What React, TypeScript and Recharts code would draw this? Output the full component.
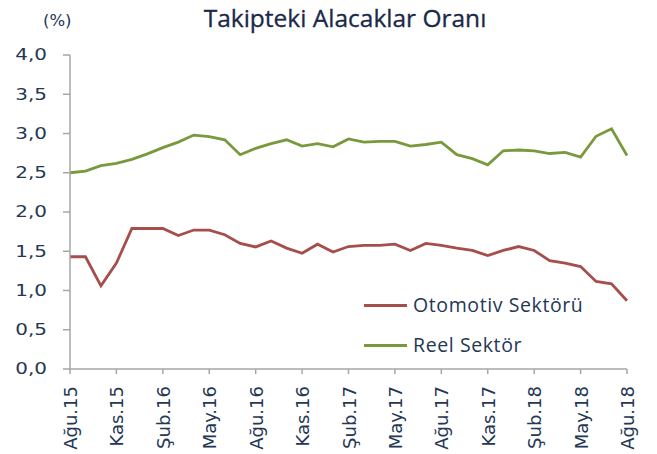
import React from 'react';
import { LineChart, Line, XAxis, YAxis, Legend } from 'recharts';

const months: string[] = [
  'Ağu.15', 'Eyl.15', 'Eki.15', 'Kas.15', 'Ara.15',
  'Oca.16', 'Şub.16', 'Mar.16', 'Nis.16', 'May.16', 'Haz.16', 'Tem.16', 'Ağu.16', 'Eyl.16', 'Eki.16', 'Kas.16', 'Ara.16',
  'Oca.17', 'Şub.17', 'Mar.17', 'Nis.17', 'May.17', 'Haz.17', 'Tem.17', 'Ağu.17', 'Eyl.17', 'Eki.17', 'Kas.17', 'Ara.17',
  'Oca.18', 'Şub.18', 'Mar.18', 'Nis.18', 'May.18', 'Haz.18', 'Tem.18', 'Ağu.18',
];

const otomotiv: number[] = [
  1.43, 1.43, 1.06, 1.35, 1.79,
  1.79, 1.79, 1.70, 1.77, 1.77, 1.71, 1.60, 1.555, 1.63, 1.54, 1.475, 1.59,
  1.49, 1.56, 1.575, 1.575, 1.59, 1.51, 1.60, 1.575, 1.54, 1.51, 1.445, 1.51,
  1.56, 1.51, 1.38, 1.35, 1.305, 1.115, 1.085, 0.87,
];

const reel: number[] = [
  2.50, 2.52, 2.59, 2.62, 2.67,
  2.74, 2.82, 2.89, 2.98, 2.96, 2.92, 2.73, 2.81, 2.87, 2.92, 2.84, 2.87,
  2.83, 2.93, 2.89, 2.90, 2.90, 2.84, 2.86, 2.89, 2.73, 2.68, 2.60, 2.78,
  2.79, 2.78, 2.745, 2.76, 2.70, 2.965, 3.06, 2.72,
];

const yTicks: number[] = [0, 0.5, 1, 1.5, 2, 2.5, 3, 3.5, 4];

const title = 'Takipteki Alacaklar Oranı';
const unitLabel = '(%)';
const seriesNames = { otomotiv: 'Otomotiv Sektörü', reel: 'Reel Sektör' };

const data = months.map((m, i) => ({ month: m, otomotiv: otomotiv[i], reel: reel[i] }));

const TEXT = '#243754';
const AXIS = '#a6a6a6';
const RED = '#a64e4c';
const GREEN = '#789a3c';

const XTick = (props: any) => {
  const { x, y, payload } = props;
  return (
    <g transform={`translate(${x},${y})`}>
      <text
        transform="rotate(-90)"
        x={-12}
        y={7}
        textAnchor="end"
        fill={TEXT}
        fontFamily="DejaVu Sans"
        fontSize={18}
      >
        {payload.value}
      </text>
    </g>
  );
};

const YTick = (props: any) => {
  const { x, y, payload } = props;
  const label = Number(payload.value).toFixed(1).replace('.', ',');
  return (
    <g transform={`translate(${x},${y}) scale(1.33,1)`}>
      <text x={0} y={0} dy="0.36em" textAnchor="end" fill={TEXT} fontFamily="DejaVu Sans" fontSize={15}>
        {label}
      </text>
    </g>
  );
};

const LegendContent = (props: any) => {
  const { payload } = props;
  return (
    <div style={{ position: 'relative', width: 260, height: 70 }}>
      {(payload || []).map((item: any, i: number) => (
        <div
          key={item.value}
          style={{ position: 'absolute', left: 0, top: i * 40, height: 30, display: 'flex', alignItems: 'center' }}
        >
          <div style={{ width: 43, height: 3, background: item.color, marginRight: 6 }} />
          <span style={{ fontFamily: 'Open Sans', fontSize: 19.5, color: TEXT, letterSpacing: 0.6, lineHeight: '30px' }}>
            {item.value}
          </span>
        </div>
      ))}
    </div>
  );
};

export default function App() {
  return (
    <div style={{ position: 'absolute', left: 0, top: 0, width: 657, height: 454, background: '#fff' }}>
      <svg width={657} height={40} style={{ position: 'absolute', left: 0, top: 0 }}>
        <text x={345} y={27} textAnchor="middle" fill="#1a2948" stroke="#1a2948" strokeWidth={0.3} fontFamily="Open Sans" fontSize={24.5}>
          {title}
        </text>
        <text x={43} y={26} textAnchor="start" fill={TEXT} fontFamily="DejaVu Sans" fontSize={16.5}>
          {unitLabel}
        </text>
      </svg>
      <LineChart
        width={657}
        height={454}
        data={data}
        margin={{ top: 55, right: 30, bottom: 5, left: 8 }}
        style={{ position: 'absolute', left: 0, top: 0 }}
      >
        <XAxis
          dataKey="month"
          scale="point"
          padding={{ left: 0, right: 0 }}
          interval={2}
          height={80}
          tickSize={5}
          tickMargin={0}
          axisLine={{ stroke: AXIS, strokeWidth: 1.5 }}
          tickLine={{ stroke: AXIS, strokeWidth: 1.5 }}
          tick={<XTick />}
        />
        <YAxis
          domain={[0, 4]}
          ticks={yTicks}
          width={62}
          tickSize={7}
          tickMargin={16}
          axisLine={{ stroke: AXIS, strokeWidth: 1.5 }}
          tickLine={{ stroke: AXIS, strokeWidth: 1.5 }}
          tick={<YTick />}
          interval={0}
        />
        <Legend
          layout="vertical"
          verticalAlign="middle"
          align="center"
          wrapperStyle={{ position: 'absolute', left: 364, top: 290, width: 260 }}
          content={<LegendContent />}
        />
        <Line
          type="linear"
          dataKey="otomotiv"
          name={seriesNames.otomotiv}
          stroke={RED}
          strokeWidth={2.8}
          dot={false}
          isAnimationActive={false}
        />
        <Line
          type="linear"
          dataKey="reel"
          name={seriesNames.reel}
          stroke={GREEN}
          strokeWidth={2.8}
          dot={false}
          isAnimationActive={false}
        />
      </LineChart>
    </div>
  );
}
